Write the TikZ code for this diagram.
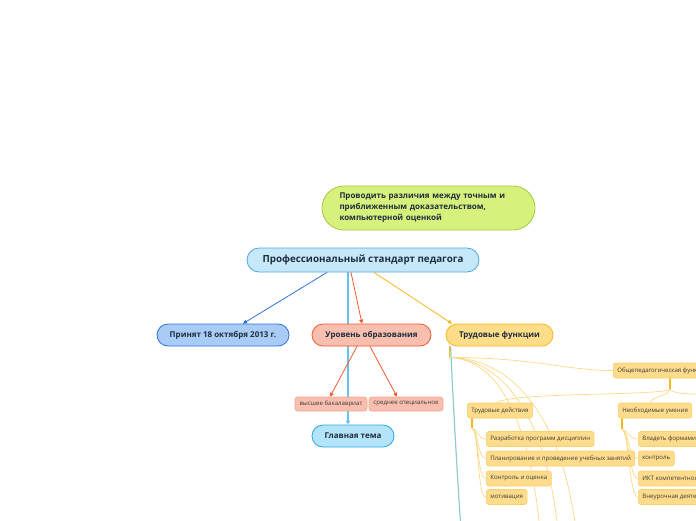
\documentclass[tikz,border=0pt]{standalone}
\usepackage{fontspec}
\setmainfont{Open Sans}
\usetikzlibrary{arrows.meta,backgrounds}
\definecolor{txt}{HTML}{1F2D3D}
\definecolor{leaftxt}{HTML}{3A3A3A}
\definecolor{greenfill}{HTML}{D6F17C}
\definecolor{greenline}{HTML}{A3C93F}
\definecolor{mainfill}{HTML}{C6E9FA}
\definecolor{mainline}{HTML}{4FA6DC}
\definecolor{bluefill}{HTML}{A9CCF6}
\definecolor{blueline}{HTML}{2F72D6}
\definecolor{redfill}{HTML}{F8BEAE}
\definecolor{redline}{HTML}{F05A2E}
\definecolor{redleafline}{HTML}{F3A592}
\definecolor{orfill}{HTML}{FEDD88}
\definecolor{orline}{HTML}{F6B81C}
\definecolor{leaffill}{HTML}{FEDC8C}
\definecolor{leafline}{HTML}{FACF6C}
\definecolor{thinor}{HTML}{FCD888}
\definecolor{skyfill}{HTML}{B4E4FA}
\definecolor{skyline}{HTML}{2BA9E1}
\definecolor{skyedge}{HTML}{66C4EE}
\definecolor{tealedge}{HTML}{95CBC8}
\tikzset{
  topic/.style={draw, line width=0.8pt, rounded corners=11pt, minimum height=22pt, inner sep=2pt,
    font=\bfseries\fontsize{8}{9}\selectfont, text=txt},
  leaf/.style={draw=leafline, fill=leaffill, line width=0.6pt, rounded corners=2.5pt, minimum height=15pt,
    inner xsep=4pt, inner ysep=1pt, anchor=west, font=\fontsize{6.1}{7}\selectfont, text=leaftxt},
  redleaf/.style={leaf, anchor=center, draw=redleafline, fill=redfill, minimum height=14pt},
  branch/.style={line width=0.8pt, line cap=round},
  thin/.style={thinor, line width=0.7pt},
  stub/.style={orline, line width=1.2pt},
  tip/.style={-{Triangle[length=4pt,width=4pt]}},
}
\begin{document}
\begin{tikzpicture}[x=1pt,y=-1pt]
\useasboundingbox (0,0) rectangle (696,520);
\clip (0,0) rectangle (696,520);
% main topics
\node[topic, fill=greenfill, draw=greenline, rounded corners=22pt, minimum width=213pt, minimum height=44pt,
  text width=178pt, align=left, font=\bfseries\fontsize{8}{11}\selectfont] (prove) at (428.5,208)
  {Проводить различия между точным и\\приближенным доказательством,\\компьютерной оценкой};
\node[topic, fill=mainfill, draw=mainline, rounded corners=12pt, minimum width=232pt, minimum height=24pt,
  font=\bfseries\fontsize{9.8}{11}\selectfont] (main) at (363,260) {Профессиональный стандарт педагога};
\node[topic, fill=bluefill, draw=blueline, minimum width=132pt] (adopt) at (223,335) {Принят 18 октября 2013 г.};
\node[topic, fill=redfill, draw=redline, minimum width=119pt] (level) at (371.5,335) {Уровень образования};
\node[topic, fill=orfill, draw=orline, minimum width=107pt] (labor) at (499.5,335) {Трудовые функции};
\node[topic, fill=skyfill, draw=skyline, minimum width=82pt] (theme) at (353,436) {Главная тема};
% education levels
\node[redleaf, minimum width=72pt] (higher) at (331,404) {высшее бакалавриат};
\node[redleaf, minimum width=74pt] (middle) at (406,404) {среднее специальное};
% labour functions
\node[leaf] (genped) at (613,370.5) {Общепедагогическая функция. Обучение};
\node[leaf] (acts) at (467,410.5) {Трудовые действия};
\node[leaf] (skills) at (618,410.5) {Необходимые умения};
\node[leaf] (devel) at (486,439) {Разработка программ дисциплин};
\node[leaf] (plan) at (486,458.5) {Планирование и проведение учебных занятий};
\node[leaf] (check) at (486,478.5) {Контроль и оценка};
\node[leaf] (motiv) at (486,497) {мотивация};
\node[leaf] (forms) at (638,439) {Владеть формами и методами обучения};
\node[leaf] (control) at (638,458.5) {контроль};
\node[leaf] (ict) at (638,478.5) {ИКТ компетентность};
\node[leaf] (extra) at (638,497) {Внеурочная деятельность};
% free ends beyond the frame
\coordinate (down) at (461,530);
\coordinate (off1) at (540,530);
\coordinate (off2) at (558,530);
\coordinate (off3) at (576,530);
\coordinate (offr) at (705,394);
\begin{scope}[on background layer]
  \draw[branch, skyedge, line width=1.4pt, tip] ([xshift=-15pt]main.south) -- ([xshift=-5pt]theme.north);
  \draw[branch, blueline, tip] ([xshift=-36pt]main.south) -- ([xshift=20pt]adopt.north);
  \draw[branch, redline, tip] ([xshift=-12pt]main.south) -- ([xshift=-9.5pt]level.north);
  \draw[branch, orline, tip] ([xshift=11pt]main.south) -- ([xshift=-47.5pt]labor.north);
  \draw[branch, redline, tip] ([xshift=-14.5pt]level.south) -- ([xshift=-1pt]higher.north);
  \draw[branch, redline, tip] ([xshift=-1.5pt]level.south) -- ([xshift=-9pt]middle.north);
  % labour functions
  \draw[tealedge, line width=1.2pt] ([xshift=5pt]labor.south west) .. controls (454,420) and (457,470) .. (down);
  \draw[stub] ([xshift=4pt]labor.south west) -- ++(0,11) coordinate (hub);
  \draw[thin] (hub) .. controls (540,358) and (560,370) .. (genped.west);
  \draw[thin] (hub) .. controls (495,360) and (528,410) .. (off1);
  \draw[thin] (hub) .. controls (500,360) and (545,410) .. (off2);
  \draw[thin] (hub) .. controls (505,358) and (560,405) .. (off3);
  \draw[stub] ([xshift=57pt]genped.south west) -- ++(0,11) coordinate (ghub);
  \draw[thin] (ghub) .. controls (660,396) and (510,392) .. ([xshift=30pt]acts.north west);
  \draw[thin] (ghub) .. controls (668,397) and (652,396) .. ([xshift=32pt]skills.north west);
  \draw[thin] (ghub) .. controls (674,394) and (688,394) .. (offr);
  \draw[stub] ([xshift=5pt]acts.south west) -- ++(0,10) coordinate (ahub);
  \foreach \leafnode in {devel,plan,check,motiv}
    \draw[thin] (ahub) .. controls +(7,2) and +(-9,0) .. (\leafnode.west);
  \draw[stub] ([xshift=4pt]skills.south west) -- ++(0,11) coordinate (shub);
  \foreach \leafnode in {forms,control,ict,extra}
    \draw[thin] (shub) .. controls +(7,2) and +(-9,0) .. (\leafnode.west);
\end{scope}
\end{tikzpicture}
\end{document}
